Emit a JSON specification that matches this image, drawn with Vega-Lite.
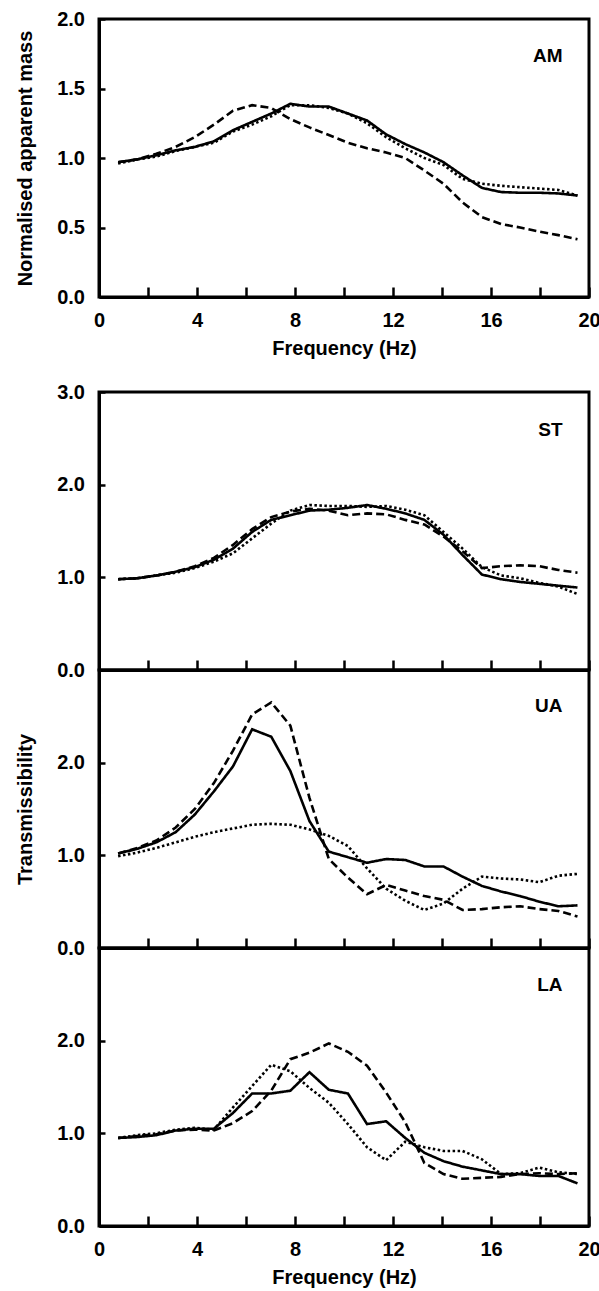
{
  "$schema": "https://vega.github.io/schema/vega-lite/v6.json",
  "padding": {"left": 13, "top": 7, "right": 0, "bottom": 0},
  "config": {
    "font": "Liberation Sans",
    "view": {"stroke": "black", "strokeWidth": 3, "strokeOpacity": 1},
    "axis": {"labelFont": "Liberation Sans", "labelFontSize": 20, "labelFontWeight": "bold", "labelColor": "black", "titleFont": "Liberation Sans", "titleFontSize": 20, "titleFontWeight": "bold", "titleColor": "black", "tickColor": "black", "tickWidth": 2.5, "domain": true, "domainColor": "black", "domainWidth": 3, "grid": false, "labelOverlap": false, "labelFlush": false},
    "line": {"color": "black", "strokeWidth": 2.6}
  },
  "data": {"name": "d"},
  "datasets": {"d": [
    {"p":"AM","s":"solid","f":0.78,"v":0.97},{"p":"AM","s":"solid","f":1.56,"v":0.99},{"p":"AM","s":"solid","f":2.34,"v":1.02},{"p":"AM","s":"solid","f":3.13,"v":1.055},{"p":"AM","s":"solid","f":3.91,"v":1.08},{"p":"AM","s":"solid","f":4.69,"v":1.12},{"p":"AM","s":"solid","f":5.47,"v":1.2},{"p":"AM","s":"solid","f":6.25,"v":1.26},{"p":"AM","s":"solid","f":7.03,"v":1.32},{"p":"AM","s":"solid","f":7.81,"v":1.39},{"p":"AM","s":"solid","f":8.59,"v":1.37},{"p":"AM","s":"solid","f":9.38,"v":1.37},{"p":"AM","s":"solid","f":10.16,"v":1.32},{"p":"AM","s":"solid","f":10.94,"v":1.27},{"p":"AM","s":"solid","f":11.72,"v":1.17},{"p":"AM","s":"solid","f":12.5,"v":1.1},{"p":"AM","s":"solid","f":13.28,"v":1.04},{"p":"AM","s":"solid","f":14.06,"v":0.97},{"p":"AM","s":"solid","f":14.84,"v":0.875},{"p":"AM","s":"solid","f":15.63,"v":0.785},{"p":"AM","s":"solid","f":16.41,"v":0.755},{"p":"AM","s":"solid","f":17.19,"v":0.75},{"p":"AM","s":"solid","f":17.97,"v":0.75},{"p":"AM","s":"solid","f":18.75,"v":0.745},{"p":"AM","s":"solid","f":19.53,"v":0.73},
    {"p":"AM","s":"dashed","f":0.78,"v":0.97},{"p":"AM","s":"dashed","f":1.56,"v":0.99},{"p":"AM","s":"dashed","f":2.34,"v":1.03},{"p":"AM","s":"dashed","f":3.13,"v":1.08},{"p":"AM","s":"dashed","f":3.91,"v":1.15},{"p":"AM","s":"dashed","f":4.69,"v":1.24},{"p":"AM","s":"dashed","f":5.47,"v":1.34},{"p":"AM","s":"dashed","f":6.25,"v":1.38},{"p":"AM","s":"dashed","f":7.03,"v":1.36},{"p":"AM","s":"dashed","f":7.81,"v":1.28},{"p":"AM","s":"dashed","f":8.59,"v":1.22},{"p":"AM","s":"dashed","f":9.38,"v":1.165},{"p":"AM","s":"dashed","f":10.16,"v":1.11},{"p":"AM","s":"dashed","f":10.94,"v":1.07},{"p":"AM","s":"dashed","f":11.72,"v":1.04},{"p":"AM","s":"dashed","f":12.5,"v":1.0},{"p":"AM","s":"dashed","f":13.28,"v":0.91},{"p":"AM","s":"dashed","f":14.06,"v":0.815},{"p":"AM","s":"dashed","f":14.84,"v":0.68},{"p":"AM","s":"dashed","f":15.63,"v":0.575},{"p":"AM","s":"dashed","f":16.41,"v":0.525},{"p":"AM","s":"dashed","f":17.19,"v":0.5},{"p":"AM","s":"dashed","f":17.97,"v":0.47},{"p":"AM","s":"dashed","f":18.75,"v":0.445},{"p":"AM","s":"dashed","f":19.53,"v":0.415},
    {"p":"AM","s":"dotted","f":0.78,"v":0.96},{"p":"AM","s":"dotted","f":1.56,"v":0.99},{"p":"AM","s":"dotted","f":2.34,"v":1.01},{"p":"AM","s":"dotted","f":3.13,"v":1.05},{"p":"AM","s":"dotted","f":3.91,"v":1.08},{"p":"AM","s":"dotted","f":4.69,"v":1.11},{"p":"AM","s":"dotted","f":5.47,"v":1.19},{"p":"AM","s":"dotted","f":6.25,"v":1.24},{"p":"AM","s":"dotted","f":7.03,"v":1.3},{"p":"AM","s":"dotted","f":7.81,"v":1.38},{"p":"AM","s":"dotted","f":8.59,"v":1.38},{"p":"AM","s":"dotted","f":9.38,"v":1.36},{"p":"AM","s":"dotted","f":10.16,"v":1.32},{"p":"AM","s":"dotted","f":10.94,"v":1.25},{"p":"AM","s":"dotted","f":11.72,"v":1.15},{"p":"AM","s":"dotted","f":12.5,"v":1.07},{"p":"AM","s":"dotted","f":13.28,"v":1.0},{"p":"AM","s":"dotted","f":14.06,"v":0.95},{"p":"AM","s":"dotted","f":14.84,"v":0.85},{"p":"AM","s":"dotted","f":15.63,"v":0.815},{"p":"AM","s":"dotted","f":16.41,"v":0.8},{"p":"AM","s":"dotted","f":17.19,"v":0.79},{"p":"AM","s":"dotted","f":17.97,"v":0.78},{"p":"AM","s":"dotted","f":18.75,"v":0.77},{"p":"AM","s":"dotted","f":19.53,"v":0.73},
    {"p":"ST","s":"solid","f":0.78,"v":0.98},{"p":"ST","s":"solid","f":1.56,"v":0.99},{"p":"ST","s":"solid","f":2.34,"v":1.02},{"p":"ST","s":"solid","f":3.13,"v":1.06},{"p":"ST","s":"solid","f":3.91,"v":1.11},{"p":"ST","s":"solid","f":4.69,"v":1.19},{"p":"ST","s":"solid","f":5.47,"v":1.31},{"p":"ST","s":"solid","f":6.25,"v":1.49},{"p":"ST","s":"solid","f":7.03,"v":1.62},{"p":"ST","s":"solid","f":7.81,"v":1.67},{"p":"ST","s":"solid","f":8.59,"v":1.72},{"p":"ST","s":"solid","f":9.38,"v":1.73},{"p":"ST","s":"solid","f":10.16,"v":1.75},{"p":"ST","s":"solid","f":10.94,"v":1.78},{"p":"ST","s":"solid","f":11.72,"v":1.74},{"p":"ST","s":"solid","f":12.5,"v":1.69},{"p":"ST","s":"solid","f":13.28,"v":1.62},{"p":"ST","s":"solid","f":14.06,"v":1.46},{"p":"ST","s":"solid","f":14.84,"v":1.24},{"p":"ST","s":"solid","f":15.63,"v":1.03},{"p":"ST","s":"solid","f":16.41,"v":0.98},{"p":"ST","s":"solid","f":17.19,"v":0.95},{"p":"ST","s":"solid","f":17.97,"v":0.93},{"p":"ST","s":"solid","f":18.75,"v":0.91},{"p":"ST","s":"solid","f":19.53,"v":0.89},
    {"p":"ST","s":"dashed","f":0.78,"v":0.98},{"p":"ST","s":"dashed","f":1.56,"v":0.99},{"p":"ST","s":"dashed","f":2.34,"v":1.02},{"p":"ST","s":"dashed","f":3.13,"v":1.06},{"p":"ST","s":"dashed","f":3.91,"v":1.12},{"p":"ST","s":"dashed","f":4.69,"v":1.21},{"p":"ST","s":"dashed","f":5.47,"v":1.35},{"p":"ST","s":"dashed","f":6.25,"v":1.52},{"p":"ST","s":"dashed","f":7.03,"v":1.65},{"p":"ST","s":"dashed","f":7.81,"v":1.71},{"p":"ST","s":"dashed","f":8.59,"v":1.74},{"p":"ST","s":"dashed","f":9.38,"v":1.72},{"p":"ST","s":"dashed","f":10.16,"v":1.67},{"p":"ST","s":"dashed","f":10.94,"v":1.69},{"p":"ST","s":"dashed","f":11.72,"v":1.68},{"p":"ST","s":"dashed","f":12.5,"v":1.62},{"p":"ST","s":"dashed","f":13.28,"v":1.57},{"p":"ST","s":"dashed","f":14.06,"v":1.44},{"p":"ST","s":"dashed","f":14.84,"v":1.28},{"p":"ST","s":"dashed","f":15.63,"v":1.1},{"p":"ST","s":"dashed","f":16.41,"v":1.12},{"p":"ST","s":"dashed","f":17.19,"v":1.13},{"p":"ST","s":"dashed","f":17.97,"v":1.12},{"p":"ST","s":"dashed","f":18.75,"v":1.08},{"p":"ST","s":"dashed","f":19.53,"v":1.05},
    {"p":"ST","s":"dotted","f":0.78,"v":0.98},{"p":"ST","s":"dotted","f":1.56,"v":0.99},{"p":"ST","s":"dotted","f":2.34,"v":1.02},{"p":"ST","s":"dotted","f":3.13,"v":1.05},{"p":"ST","s":"dotted","f":3.91,"v":1.1},{"p":"ST","s":"dotted","f":4.69,"v":1.17},{"p":"ST","s":"dotted","f":5.47,"v":1.26},{"p":"ST","s":"dotted","f":6.25,"v":1.42},{"p":"ST","s":"dotted","f":7.03,"v":1.58},{"p":"ST","s":"dotted","f":7.81,"v":1.72},{"p":"ST","s":"dotted","f":8.59,"v":1.78},{"p":"ST","s":"dotted","f":9.38,"v":1.77},{"p":"ST","s":"dotted","f":10.16,"v":1.77},{"p":"ST","s":"dotted","f":10.94,"v":1.76},{"p":"ST","s":"dotted","f":11.72,"v":1.77},{"p":"ST","s":"dotted","f":12.5,"v":1.73},{"p":"ST","s":"dotted","f":13.28,"v":1.67},{"p":"ST","s":"dotted","f":14.06,"v":1.49},{"p":"ST","s":"dotted","f":14.84,"v":1.31},{"p":"ST","s":"dotted","f":15.63,"v":1.11},{"p":"ST","s":"dotted","f":16.41,"v":1.02},{"p":"ST","s":"dotted","f":17.19,"v":0.99},{"p":"ST","s":"dotted","f":17.97,"v":0.94},{"p":"ST","s":"dotted","f":18.75,"v":0.9},{"p":"ST","s":"dotted","f":19.53,"v":0.82},
    {"p":"UA","s":"solid","f":0.78,"v":1.02},{"p":"UA","s":"solid","f":1.56,"v":1.07},{"p":"UA","s":"solid","f":2.34,"v":1.14},{"p":"UA","s":"solid","f":3.13,"v":1.25},{"p":"UA","s":"solid","f":3.91,"v":1.44},{"p":"UA","s":"solid","f":4.69,"v":1.69},{"p":"UA","s":"solid","f":5.47,"v":1.96},{"p":"UA","s":"solid","f":6.25,"v":2.36},{"p":"UA","s":"solid","f":7.03,"v":2.28},{"p":"UA","s":"solid","f":7.81,"v":1.91},{"p":"UA","s":"solid","f":8.59,"v":1.37},{"p":"UA","s":"solid","f":9.38,"v":1.04},{"p":"UA","s":"solid","f":10.16,"v":0.98},{"p":"UA","s":"solid","f":10.94,"v":0.92},{"p":"UA","s":"solid","f":11.72,"v":0.96},{"p":"UA","s":"solid","f":12.5,"v":0.95},{"p":"UA","s":"solid","f":13.28,"v":0.88},{"p":"UA","s":"solid","f":14.06,"v":0.88},{"p":"UA","s":"solid","f":14.84,"v":0.77},{"p":"UA","s":"solid","f":15.63,"v":0.67},{"p":"UA","s":"solid","f":16.41,"v":0.61},{"p":"UA","s":"solid","f":17.19,"v":0.56},{"p":"UA","s":"solid","f":17.97,"v":0.5},{"p":"UA","s":"solid","f":18.75,"v":0.45},{"p":"UA","s":"solid","f":19.53,"v":0.46},
    {"p":"UA","s":"dashed","f":0.78,"v":1.02},{"p":"UA","s":"dashed","f":1.56,"v":1.08},{"p":"UA","s":"dashed","f":2.34,"v":1.16},{"p":"UA","s":"dashed","f":3.13,"v":1.3},{"p":"UA","s":"dashed","f":3.91,"v":1.5},{"p":"UA","s":"dashed","f":4.69,"v":1.78},{"p":"UA","s":"dashed","f":5.47,"v":2.13},{"p":"UA","s":"dashed","f":6.25,"v":2.52},{"p":"UA","s":"dashed","f":7.03,"v":2.65},{"p":"UA","s":"dashed","f":7.81,"v":2.4},{"p":"UA","s":"dashed","f":8.59,"v":1.62},{"p":"UA","s":"dashed","f":9.38,"v":0.96},{"p":"UA","s":"dashed","f":10.16,"v":0.76},{"p":"UA","s":"dashed","f":10.94,"v":0.58},{"p":"UA","s":"dashed","f":11.72,"v":0.68},{"p":"UA","s":"dashed","f":12.5,"v":0.62},{"p":"UA","s":"dashed","f":13.28,"v":0.56},{"p":"UA","s":"dashed","f":14.06,"v":0.52},{"p":"UA","s":"dashed","f":14.84,"v":0.41},{"p":"UA","s":"dashed","f":15.63,"v":0.42},{"p":"UA","s":"dashed","f":16.41,"v":0.44},{"p":"UA","s":"dashed","f":17.19,"v":0.45},{"p":"UA","s":"dashed","f":17.97,"v":0.42},{"p":"UA","s":"dashed","f":18.75,"v":0.4},{"p":"UA","s":"dashed","f":19.53,"v":0.34},
    {"p":"UA","s":"dotted","f":0.78,"v":0.99},{"p":"UA","s":"dotted","f":1.56,"v":1.03},{"p":"UA","s":"dotted","f":2.34,"v":1.08},{"p":"UA","s":"dotted","f":3.13,"v":1.14},{"p":"UA","s":"dotted","f":3.91,"v":1.2},{"p":"UA","s":"dotted","f":4.69,"v":1.25},{"p":"UA","s":"dotted","f":5.47,"v":1.29},{"p":"UA","s":"dotted","f":6.25,"v":1.33},{"p":"UA","s":"dotted","f":7.03,"v":1.34},{"p":"UA","s":"dotted","f":7.81,"v":1.33},{"p":"UA","s":"dotted","f":8.59,"v":1.28},{"p":"UA","s":"dotted","f":9.38,"v":1.21},{"p":"UA","s":"dotted","f":10.16,"v":1.1},{"p":"UA","s":"dotted","f":10.94,"v":0.86},{"p":"UA","s":"dotted","f":11.72,"v":0.64},{"p":"UA","s":"dotted","f":12.5,"v":0.51},{"p":"UA","s":"dotted","f":13.28,"v":0.41},{"p":"UA","s":"dotted","f":14.06,"v":0.48},{"p":"UA","s":"dotted","f":14.84,"v":0.64},{"p":"UA","s":"dotted","f":15.63,"v":0.77},{"p":"UA","s":"dotted","f":16.41,"v":0.75},{"p":"UA","s":"dotted","f":17.19,"v":0.74},{"p":"UA","s":"dotted","f":17.97,"v":0.71},{"p":"UA","s":"dotted","f":18.75,"v":0.78},{"p":"UA","s":"dotted","f":19.53,"v":0.8},
    {"p":"LA","s":"solid","f":0.78,"v":0.95},{"p":"LA","s":"solid","f":1.56,"v":0.96},{"p":"LA","s":"solid","f":2.34,"v":0.98},{"p":"LA","s":"solid","f":3.13,"v":1.03},{"p":"LA","s":"solid","f":3.91,"v":1.05},{"p":"LA","s":"solid","f":4.69,"v":1.05},{"p":"LA","s":"solid","f":5.47,"v":1.22},{"p":"LA","s":"solid","f":6.25,"v":1.43},{"p":"LA","s":"solid","f":7.03,"v":1.43},{"p":"LA","s":"solid","f":7.81,"v":1.46},{"p":"LA","s":"solid","f":8.59,"v":1.66},{"p":"LA","s":"solid","f":9.38,"v":1.47},{"p":"LA","s":"solid","f":10.16,"v":1.43},{"p":"LA","s":"solid","f":10.94,"v":1.1},{"p":"LA","s":"solid","f":11.72,"v":1.13},{"p":"LA","s":"solid","f":12.5,"v":0.95},{"p":"LA","s":"solid","f":13.28,"v":0.79},{"p":"LA","s":"solid","f":14.06,"v":0.7},{"p":"LA","s":"solid","f":14.84,"v":0.64},{"p":"LA","s":"solid","f":15.63,"v":0.6},{"p":"LA","s":"solid","f":16.41,"v":0.56},{"p":"LA","s":"solid","f":17.19,"v":0.56},{"p":"LA","s":"solid","f":17.97,"v":0.54},{"p":"LA","s":"solid","f":18.75,"v":0.54},{"p":"LA","s":"solid","f":19.53,"v":0.46},
    {"p":"LA","s":"dashed","f":0.78,"v":0.95},{"p":"LA","s":"dashed","f":1.56,"v":0.97},{"p":"LA","s":"dashed","f":2.34,"v":0.99},{"p":"LA","s":"dashed","f":3.13,"v":1.03},{"p":"LA","s":"dashed","f":3.91,"v":1.04},{"p":"LA","s":"dashed","f":4.69,"v":1.03},{"p":"LA","s":"dashed","f":5.47,"v":1.11},{"p":"LA","s":"dashed","f":6.25,"v":1.24},{"p":"LA","s":"dashed","f":7.03,"v":1.46},{"p":"LA","s":"dashed","f":7.81,"v":1.8},{"p":"LA","s":"dashed","f":8.59,"v":1.87},{"p":"LA","s":"dashed","f":9.38,"v":1.97},{"p":"LA","s":"dashed","f":10.16,"v":1.88},{"p":"LA","s":"dashed","f":10.94,"v":1.73},{"p":"LA","s":"dashed","f":11.72,"v":1.44},{"p":"LA","s":"dashed","f":12.5,"v":1.12},{"p":"LA","s":"dashed","f":13.28,"v":0.68},{"p":"LA","s":"dashed","f":14.06,"v":0.56},{"p":"LA","s":"dashed","f":14.84,"v":0.51},{"p":"LA","s":"dashed","f":15.63,"v":0.52},{"p":"LA","s":"dashed","f":16.41,"v":0.53},{"p":"LA","s":"dashed","f":17.19,"v":0.56},{"p":"LA","s":"dashed","f":17.97,"v":0.57},{"p":"LA","s":"dashed","f":18.75,"v":0.56},{"p":"LA","s":"dashed","f":19.53,"v":0.57},
    {"p":"LA","s":"dotted","f":0.78,"v":0.95},{"p":"LA","s":"dotted","f":1.56,"v":0.98},{"p":"LA","s":"dotted","f":2.34,"v":1.0},{"p":"LA","s":"dotted","f":3.13,"v":1.04},{"p":"LA","s":"dotted","f":3.91,"v":1.06},{"p":"LA","s":"dotted","f":4.69,"v":1.04},{"p":"LA","s":"dotted","f":5.47,"v":1.28},{"p":"LA","s":"dotted","f":6.25,"v":1.51},{"p":"LA","s":"dotted","f":7.03,"v":1.74},{"p":"LA","s":"dotted","f":7.81,"v":1.67},{"p":"LA","s":"dotted","f":8.59,"v":1.49},{"p":"LA","s":"dotted","f":9.38,"v":1.33},{"p":"LA","s":"dotted","f":10.16,"v":1.1},{"p":"LA","s":"dotted","f":10.94,"v":0.85},{"p":"LA","s":"dotted","f":11.72,"v":0.71},{"p":"LA","s":"dotted","f":12.5,"v":0.91},{"p":"LA","s":"dotted","f":13.28,"v":0.85},{"p":"LA","s":"dotted","f":14.06,"v":0.81},{"p":"LA","s":"dotted","f":14.84,"v":0.81},{"p":"LA","s":"dotted","f":15.63,"v":0.72},{"p":"LA","s":"dotted","f":16.41,"v":0.56},{"p":"LA","s":"dotted","f":17.19,"v":0.57},{"p":"LA","s":"dotted","f":17.97,"v":0.63},{"p":"LA","s":"dotted","f":18.75,"v":0.58},{"p":"LA","s":"dotted","f":19.53,"v":0.56}
  ]},
  "spacing": 20,
  "vconcat": [
    {
      "width": 490, "height": 278,
      "view": {"stroke": "black", "strokeWidth": 3},
      "transform": [{"filter": "datum.p === 'AM'"}],
      "encoding": {
        "x": {"field": "f", "type": "quantitative", "scale": {"domain": [0, 20], "nice": false},
              "axis": {"title": "Frequency (Hz)", "values": [0,2,4,6,8,10,12,14,16,18,20], "labelExpr": "datum.value % 4 === 0 ? datum.label : ''", "tickSize": -10, "labelPadding": 23.5, "titlePadding": 8}},
        "y": {"field": "v", "type": "quantitative", "scale": {"domain": [0, 2], "nice": false},
              "axis": {"title": "Normalised apparent mass", "values": [0, 0.5, 1, 1.5, 2], "format": ".1f", "tickSize": -6, "labelPadding": 20.5, "titlePadding": 21.5}}
      },
      "layer": [
        {
          "mark": {"type": "line"},
          "encoding": {
            "strokeDash": {"field": "s", "type": "nominal", "scale": {"domain": ["dotted", "dashed", "solid"], "range": [[2.5, 2.5], [8, 4], [1, 0]]}, "legend": null}
          }
        },
        {
          "transform": [{"filter": "datum.s === 'solid' && datum.f === 0.78"}],
          "mark": {"type": "text", "text": "AM", "align": "right", "baseline": "alphabetic", "fontSize": 19, "fontWeight": "bold", "font": "Liberation Sans", "color": "black"},
          "encoding": {"x": {"datum": 18.92}, "y": {"datum": 1.69}}
        }
      ]
    },
    {
      "spacing": 0,
      "bounds": "flush",
      "vconcat": [
        {
          "width": 490, "height": 278,
          "view": {"stroke": "black", "strokeWidth": 3},
          "transform": [{"filter": "datum.p === 'ST'"}],
          "encoding": {
            "x": {"field": "f", "type": "quantitative", "scale": {"domain": [0, 20], "nice": false},
                  "axis": {"title": null, "labels": false, "values": [0,2,4,6,8,10,12,14,16,18,20], "tickSize": -10}},
            "y": {"field": "v", "type": "quantitative", "scale": {"domain": [0, 3], "nice": false},
                  "axis": {"title": null, "values": [0, 1, 2, 3], "format": ".1f", "tickSize": -6, "labelPadding": 20.5}}
          },
          "layer": [
            {
              "mark": {"type": "line"},
              "encoding": {
                "strokeDash": {"field": "s", "type": "nominal", "scale": {"domain": ["dotted", "dashed", "solid"], "range": [[2.5, 2.5], [8, 4], [1, 0]]}, "legend": null}
              }
            },
            {
              "transform": [{"filter": "datum.s === 'solid' && datum.f === 0.78"}],
              "mark": {"type": "text", "text": "ST", "align": "right", "baseline": "alphabetic", "fontSize": 19, "fontWeight": "bold", "font": "Liberation Sans", "color": "black"},
              "encoding": {"x": {"datum": 18.92}, "y": {"datum": 2.52}}
            }
          ]
        },
        {
          "width": 490, "height": 278,
          "view": {"stroke": "black", "strokeWidth": 3},
          "transform": [{"filter": "datum.p === 'UA'"}],
          "encoding": {
            "x": {"field": "f", "type": "quantitative", "scale": {"domain": [0, 20], "nice": false},
                  "axis": {"title": null, "labels": false, "values": [0,2,4,6,8,10,12,14,16,18,20], "tickSize": -10}},
            "y": {"field": "v", "type": "quantitative", "scale": {"domain": [0, 3], "nice": false},
                  "axis": {"title": "Transmissibility", "values": [0, 1, 2], "format": ".1f", "tickSize": -6, "labelPadding": 20.5, "titlePadding": 21.5}}
          },
          "layer": [
            {
              "mark": {"type": "line"},
              "encoding": {
                "strokeDash": {"field": "s", "type": "nominal", "scale": {"domain": ["dotted", "dashed", "solid"], "range": [[2.5, 2.5], [8, 4], [1, 0]]}, "legend": null}
              }
            },
            {
              "transform": [{"filter": "datum.s === 'solid' && datum.f === 0.78"}],
              "mark": {"type": "text", "text": "UA", "align": "right", "baseline": "alphabetic", "fontSize": 19, "fontWeight": "bold", "font": "Liberation Sans", "color": "black"},
              "encoding": {"x": {"datum": 18.92}, "y": {"datum": 2.55}}
            }
          ]
        },
        {
          "width": 490, "height": 278,
          "view": {"stroke": "black", "strokeWidth": 3},
          "transform": [{"filter": "datum.p === 'LA'"}],
          "encoding": {
            "x": {"field": "f", "type": "quantitative", "scale": {"domain": [0, 20], "nice": false},
                  "axis": {"title": "Frequency (Hz)", "values": [0,2,4,6,8,10,12,14,16,18,20], "labelExpr": "datum.value % 4 === 0 ? datum.label : ''", "tickSize": -10, "labelPadding": 23.5, "titlePadding": 8}},
            "y": {"field": "v", "type": "quantitative", "scale": {"domain": [0, 3], "nice": false},
                  "axis": {"title": null, "values": [0, 1, 2], "format": ".1f", "tickSize": -6, "labelPadding": 20.5}}
          },
          "layer": [
            {
              "mark": {"type": "line"},
              "encoding": {
                "strokeDash": {"field": "s", "type": "nominal", "scale": {"domain": ["dotted", "dashed", "solid"], "range": [[2.5, 2.5], [8, 4], [1, 0]]}, "legend": null}
              }
            },
            {
              "transform": [{"filter": "datum.s === 'solid' && datum.f === 0.78"}],
              "mark": {"type": "text", "text": "LA", "align": "right", "baseline": "alphabetic", "fontSize": 19, "fontWeight": "bold", "font": "Liberation Sans", "color": "black"},
              "encoding": {"x": {"datum": 18.92}, "y": {"datum": 2.54}}
            }
          ]
        }
      ]
    }
  ]
}
